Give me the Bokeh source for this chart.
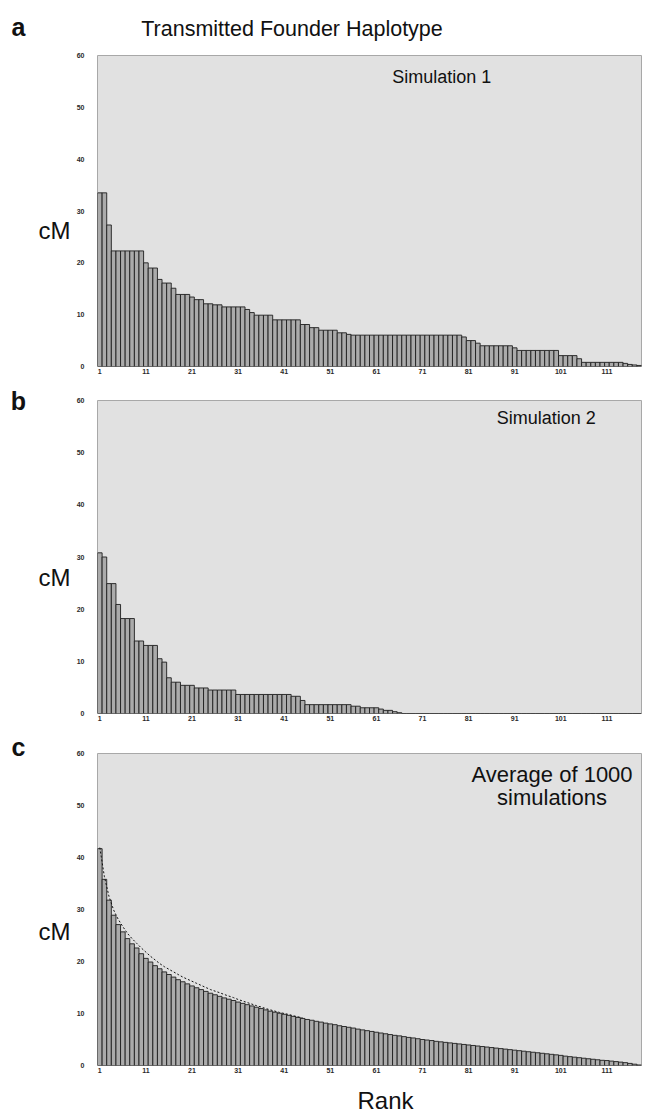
from bokeh.plotting import figure
from bokeh.models import Label, FixedTicker, Range1d
from bokeh.layouts import column, row
from bokeh.embed import file_html
from bokeh.resources import INLINE

ranks = list(range(1, 119))

sim1_cm = ([33.5, 33.5, 27.3] + [22.3] * 7 + [20.0, 19.0, 19.0, 16.8, 16.1, 16.1, 15.1,
           13.9, 13.9, 13.9, 13.4, 12.9, 12.9, 12.1, 12.1, 11.9, 11.9]
           + [11.5] * 5 + [11.0, 10.4] + [9.9] * 4 + [9.0] * 6 + [8.1, 8.1, 7.5, 7.5]
           + [7.0] * 4 + [6.5, 6.5, 6.2] + [6.05] * 24 + [5.7, 5.0, 5.0, 4.5] + [4.0] * 7
           + [3.6] + [3.1] * 9 + [2.1] * 4 + [1.5] + [0.8] * 9 + [0.6, 0.4, 0.3, 0.2])

sim2_cm = ([30.8, 30.0, 24.9, 24.9, 20.9, 18.2, 18.2, 18.2, 13.9, 13.9, 13.05, 13.05, 13.05,
           10.5, 9.85, 6.85, 6.0, 6.0, 5.4, 5.4, 5.4, 4.9, 4.9, 4.9] + [4.5] * 6 + [3.65] * 12
           + [3.3, 3.3, 2.5] + [1.7] * 10 + [1.4, 1.4, 1.1, 1.1, 1.1, 1.1, 0.85, 0.6, 0.6, 0.35, 0.15]
           + [0.0] * 52)

avg_cm = [41.7, 35.8, 31.8, 28.9, 27.1, 25.7, 24.4, 23.4, 22.6, 21.5,
          20.6, 19.9, 19.2, 18.6, 18.0, 17.5, 17.0, 16.5, 16.1, 15.7,
          15.3, 14.95, 14.6, 14.25, 13.9, 13.6, 13.3, 13.0, 12.75, 12.5,
          12.2, 11.95, 11.7, 11.45, 11.2, 10.95, 10.7, 10.45, 10.25, 10.05,
          9.85, 9.65, 9.45, 9.25, 9.05, 8.85, 8.7, 8.5, 8.35, 8.15,
          8.0, 7.85, 7.65, 7.5, 7.35, 7.2, 7.0, 6.85, 6.7, 6.55,
          6.4, 6.25, 6.1, 5.95, 5.8, 5.7, 5.55, 5.4, 5.3, 5.15,
          5.0, 4.9, 4.8, 4.65, 4.55, 4.45, 4.35, 4.25, 4.15, 4.05,
          3.95, 3.85, 3.75, 3.65, 3.55, 3.45, 3.35, 3.25, 3.15, 3.05,
          2.95, 2.85, 2.75, 2.65, 2.55, 2.45, 2.35, 2.25, 2.15, 2.05,
          1.95, 1.8, 1.7, 1.6, 1.5, 1.4, 1.3, 1.2, 1.1, 1.0,
          0.95, 0.85, 0.75, 0.65, 0.55, 0.4, 0.25, 0.1]

expected_ranks = list(range(1, 46))
expected_cm = [41.9, 36.3, 32.5, 29.9, 28.1, 26.7, 25.4, 24.4, 23.5, 22.6,
               21.8, 21.0, 20.3, 19.6, 19.0, 18.5, 18.0, 17.5, 17.0, 16.6,
               16.2, 15.8, 15.4, 15.0, 14.6, 14.3, 14.0, 13.65, 13.35, 13.05,
               12.7, 12.4, 12.1, 11.8, 11.5, 11.25, 10.95, 10.7, 10.45, 10.2,
               10.0, 9.8, 9.55, 9.35, 9.15]

x_tick_labels = [1, 11, 21, 31, 41, 51, 61, 71, 81, 91, 101, 111]
y_tick_labels = [0, 10, 20, 30, 40, 50, 60]

FONT = "Liberation Sans"
TOTAL_W = 647
STRIP_W = 72


def strip(width, height):
    """A plain white figure used only to hold texts, in pixel coordinates (y downwards)."""
    s = figure(width=width, height=height, output_backend="svg", toolbar_location=None,
               x_range=Range1d(0, width), y_range=Range1d(height, 0),
               x_axis_type=None, y_axis_type=None, title_location=None,
               min_border_left=0, min_border_right=0, min_border_top=0, min_border_bottom=0)
    s.frame_align = False
    s.outline_line_color = None
    s.grid.visible = False
    s.background_fill_color = "white"
    s.border_fill_color = "white"
    return s


def label(p, x, y, text, size, align="center", bold=False):
    p.add_layout(Label(x=x, y=y, text=text, text_font=FONT, text_font_size=size,
                       text_align=align, text_baseline="middle",
                       text_font_style="bold" if bold else "normal",
                       text_color="#111111"))


def make_panel(values, height, top, bottom):
    p = figure(width=TOTAL_W - STRIP_W, height=height, output_backend="svg",
               toolbar_location=None, title_location=None,
               x_range=Range1d(0.5, 118.5), y_range=Range1d(0, 60),
               min_border_left=25, min_border_right=6,
               min_border_top=top, min_border_bottom=bottom)
    p.frame_align = False
    p.background_fill_color = "#e1e1e1"
    p.border_fill_color = "white"
    p.outline_line_color = "#a8a8a8"
    p.outline_line_width = 1
    p.grid.visible = False
    p.vbar(x=ranks, top=values, bottom=0, width=1, fill_color="#ababab",
           line_color="#1e1e1e", line_width=0.9)
    for ax in (p.xaxis, p.yaxis):
        ax.axis_line_color = None
        ax.major_tick_line_color = None
        ax.minor_tick_line_color = None
        ax.major_tick_out = 0
        ax.major_tick_in = 0
        ax.minor_tick_out = 0
        ax.major_label_text_font = FONT
        ax.major_label_text_font_size = "7px"
        ax.major_label_text_font_style = "bold"
        ax.major_label_text_color = "#2a2a2a"
    p.xaxis.ticker = FixedTicker(ticks=x_tick_labels)
    p.yaxis.ticker = FixedTicker(ticks=y_tick_labels)
    p.xaxis.major_label_standoff = 2
    p.yaxis.major_label_standoff = 13
    return p


# top strip: panel letter and overall title
top = strip(TOTAL_W, 44)
label(top, 18, 26, "a", "25px", bold=True)
label(top, 294.5, 28.6, "Transmitted  Founder Haplotype", "21.5px")

# panel a
pa = make_panel(sim1_cm, 341, 11, 19)
label(pa, 85.9, 55.8, "Simulation 1", "18px", align="right")
la = strip(STRIP_W, 341)
label(la, 54, 186, "cM", "24px")

# panel b
pb = make_panel(sim2_cm, 348, 15, 20)
label(pb, 108.6, 56.6, "Simulation 2", "18px", align="right")
lb = strip(STRIP_W, 348)
label(lb, 18, 15, "b", "25px", bold=True)
label(lb, 54, 192, "cM", "24px")

# panel c
pc = make_panel(avg_cm, 346, 20, 14)
pc.line(x=expected_ranks, y=expected_cm, line_color="#111111", line_width=1, line_dash="2 2")
label(pc, 99.1, 55.96, "Average of 1000", "22px")
label(pc, 99.1, 51.5, "simulations", "22px")
lc = strip(STRIP_W, 346)
label(lc, 18, 13, "c", "25px", bold=True)
label(lc, 54, 198, "cM", "24px")

# bottom strip: x axis title
bottom = strip(TOTAL_W, 37)
label(bottom, 385, 21, "Rank", "24px")

layout = column(top, row(la, pa), row(lb, pb), row(lc, pc), bottom, spacing=0)
open("out.html", "w").write(file_html(layout, INLINE))
